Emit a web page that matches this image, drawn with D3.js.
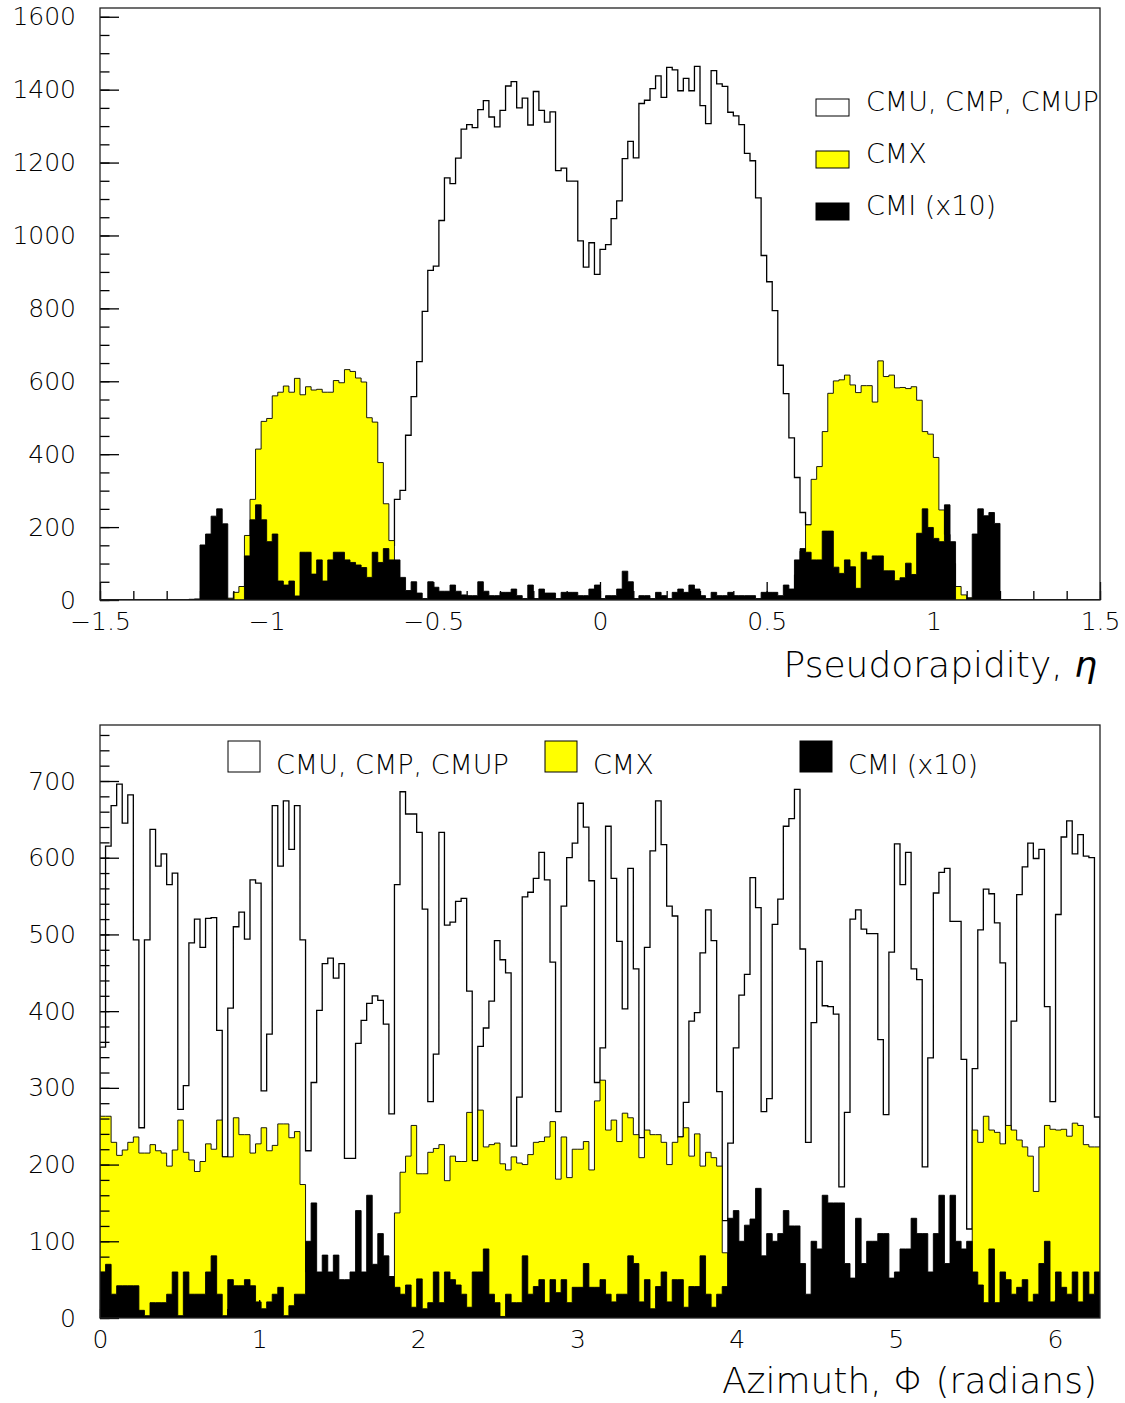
<!DOCTYPE html>
<html>
<head>
<meta charset="utf-8">
<script src="https://cdn.jsdelivr.net/npm/d3@7"></script>
<style>
  body { margin: 0; background: #fff; }
  text { font-family: 'DejaVu Sans', sans-serif; font-weight: 200; fill: #000; }
</style>
</head>
<body>
<script>
// ---- pseudorapidity histograms (180 bins, -1.5 .. 1.5) ----
const etaRange = [-1.5, 1.5];
const etaTicks = [-1.5, -1, -0.5, 0, 0.5, 1, 1.5];
const etaCountTicks = [0, 200, 400, 600, 800, 1000, 1200, 1400, 1600];
const etaCountMax = 1624;

const etaCMU = [
  0,0,0,0,0,0,0,0,0,0, 0,0,0,0,0,0,0,0,0,0,
  0,0,0,0,0,0,0,0,0,0, 0,0,0,0,0,0,0,0,0,0,
  0,0,0,0,0,0,0,0,0,0, 10,40,150,276,301,452,558,654,792,904,
  916,1041,1158,1142,1212,1292,1304,1296,1345,1370, 1325,1298,1343,1410,1422,1350,1377,1303,1395,1343,
  1311,1339,1178,1185,1149,1149,985,913,980,893, 962,975,1046,1095,1211,1258,1213,1362,1371,1403,
  1438,1379,1461,1454,1397,1431,1397,1464,1356,1307, 1452,1416,1409,1338,1328,1304,1225,1205,1103,945,
  873,794,644,566,445,336,240,206,150,80, 30,10,0,0,0,0,0,0,0,0,
  0,0,0,0,0,0,0,0,0,0, 0,0,0,0,0,0,0,0,0,0,
  0,0,0,0,0,0,0,0,0,0, 0,0,0,0,0,0,0,0,0,0
];

const etaCMX = [
  0,0,0,0,0,0,0,0,0,0, 0,0,0,0,0,0,0,0,0,0,
  0,0,0,5,21,37,177,276,414,490, 498,560,570,587,570,608,563,585,576,578,
  570,570,602,596,632,627,609,598,500,488, 377,264,163,5,2,0,0,0,0,0,
  0,0,0,0,0,0,0,0,0,0, 0,0,0,0,0,0,0,0,0,0,
  0,0,0,0,0,0,0,0,0,0, 0,0,0,0,0,0,0,0,0,0,
  0,0,0,0,0,0,0,0,0,0, 0,0,0,0,0,0,0,0,0,0,
  0,0,3,10,29,69,134,206,331,366, 462,567,601,604,617,590,569,588,588,543,
  656,613,617,582,583,580,585,548,462,455, 391,247,180,100,37,14,6,0,0,0,
  0,0,0,0,0,0,0,0,0,0, 0,0,0,0,0,0,0,0,0,0
];

const etaCMI = [
  0,0,0,0,0,0,0,0,0,0, 0,0,0,0,0,0,2,3,151,181,
  230,250,209,3,0,0,121,220,261,220, 160,181,52,41,52,11,131,131,71,110,
  52,110,131,131,110,103,96,89,62,131, 103,141,110,110,62,26,50,19,4,50,
  35,24,24,41,24,14,12,12,50,24, 12,12,21,21,30,12,4,41,4,30,
  19,19,4,21,21,21,12,12,30,41, 4,12,12,30,79,50,4,12,12,4,
  21,12,4,21,30,21,41,30,12,4, 21,12,12,21,12,12,12,12,4,21,
  21,21,12,41,30,110,141,131,110,110, 189,189,90,73,110,91,32,131,110,121,
  121,80,80,53,61,101,70,183,250,199, 169,160,261,160,0,0,5,181,250,231,
  240,210,1,1,1,0,0,0,0,0, 0,0,0,0,0,0,0,0,0,0
];

// ---- azimuth histograms (180 bins, 0 .. 2pi) ----
const phiRange = [0, 2 * Math.PI];
const phiTicks = [0, 1, 2, 3, 4, 5, 6];
const phiCountTicks = [0, 100, 200, 300, 400, 500, 600, 700];
const phiCountMax = 773;

const phiCMU = [
  353,615,668,696,645,682,493,248,493,637, 589,605,565,580,272,303,489,520,483,521,
  522,375,210,404,510,529,494,571,567,296, 370,668,589,674,611,668,493,218,307,401,
  462,469,443,462,208,208,358,388,410,420, 414,383,266,565,686,657,657,633,533,282,
  344,633,512,516,543,547,426,205,354,378, 413,492,467,450,224,288,549,555,573,607,
  571,464,269,537,600,619,671,640,570,307, 352,641,573,491,403,586,455,235,483,609,
  674,617,537,524,236,281,387,398,476,532, 492,295,127,228,352,421,448,574,535,269,
  286,513,546,641,651,689,481,229,385,465, 407,406,396,171,268,520,532,507,501,501,
  363,265,477,618,565,607,455,441,197,339, 554,581,586,517,517,337,116,325,506,559,
  553,515,463,226,387,552,588,619,599,611, 406,282,526,627,648,605,630,602,600,262
];

const phiCMX = [
  263,263,229,212,219,229,236,215,215,226, 218,215,198,219,258,216,206,191,204,227,
  220,258,210,210,261,239,239,215,227,248, 218,225,253,253,235,243,174,60,0,0,
  0,0,0,0,0,0,0,0,0,0, 0,0,54,137,190,211,251,188,188,216,
  221,226,179,211,204,204,268,205,271,223, 226,228,201,193,210,202,200,213,229,230,
  236,256,181,236,183,220,220,230,193,283, 310,245,258,230,267,261,239,209,245,239,
  239,229,200,229,236,248,211,240,198,216, 209,198,85,0,0,0,0,0,0,0,
  0,0,0,0,0,0,0,0,0,0, 0,0,0,0,0,0,0,0,0,0,
  0,0,0,0,0,0,0,0,0,0, 0,0,0,0,0,0,0,245,229,263,
  245,242,227,251,245,232,223,211,165,223, 251,246,245,246,237,254,251,226,223,223
];

const phiCMI = [
  60,70,31,42,42,42,42,10,3,20, 20,20,31,60,3,60,31,31,31,60,
  81,31,3,50,42,42,50,42,21,12, 21,31,40,3,16,31,31,100,150,60,
  82,60,82,50,50,60,140,60,160,70, 110,81,54,40,31,43,14,51,12,20,
  60,20,60,50,43,31,14,60,60,90, 31,20,2,31,20,20,81,31,41,50,
  20,50,33,50,20,40,40,71,40,40, 50,31,21,31,31,81,71,21,50,12,
  41,60,21,50,50,14,41,41,81,31, 14,31,41,130,140,100,121,129,169,81,
  110,100,110,140,120,120,71,31,100,90, 160,150,150,150,71,52,130,71,100,100,
  110,110,52,60,90,90,130,110,110,60, 110,160,71,160,100,90,100,60,43,20,
  90,20,60,50,31,40,50,21,31,71, 100,21,60,40,31,60,21,60,31,60
];

const seriesNames = ['CMU, CMP, CMUP', 'CMX', 'CMI (x10)'];
const seriesFill = ['none', '#ffff00', '#000000'];

const width = 1125;
const height = 1403;

const svg = d3.select('body').append('svg')
  .attr('width', width)
  .attr('height', height);

const panels = [
  {
    id: 'eta', xDomain: etaRange, yMax: etaCountMax, top: 8, bottom: 600,
    xTicks: etaTicks, xMinor: 0.1, yTicks: etaCountTicks, yMinor: 50,
    series: [etaCMU, etaCMX, etaCMI], title: ['Pseudorapidity, ', '\u03b7'], titleY: 677
  },
  {
    id: 'phi', xDomain: phiRange, yMax: phiCountMax, top: 725, bottom: 1318,
    xTicks: phiTicks, xMinor: 0.2, yTicks: phiCountTicks, yMinor: 20,
    series: [phiCMU, phiCMX, phiCMI], title: ['Azimuth, \u03a6 (radians)'], titleY: 1393
  }
];

const left = 100, right = 1100;
const fmt = d3.format('~g');

panels.forEach(p => {
  const x = d3.scaleLinear().domain(p.xDomain).range([left, right]);
  const y = d3.scaleLinear().domain([0, p.yMax]).range([p.bottom, p.top]);
  const g = svg.append('g').attr('class', p.id);

  g.append('clipPath').attr('id', 'clip-' + p.id)
    .append('rect')
    .attr('x', left).attr('y', p.top)
    .attr('width', right - left).attr('height', p.bottom - p.top);

  const plot = g.append('g').attr('clip-path', `url(#clip-${p.id})`);

  const line = d3.line().x(d => x(d[0])).y(d => y(d[1]));

  p.series.forEach((values, k) => {
    const n = values.length;
    const step = (p.xDomain[1] - p.xDomain[0]) / n;
    const pts = [[p.xDomain[0], 0]];
    values.forEach((v, i) => {
      pts.push([p.xDomain[0] + i * step, v], [p.xDomain[0] + (i + 1) * step, v]);
    });
    pts.push([p.xDomain[1], 0]);
    plot.append('path')
      .attr('d', line(pts))
      .attr('fill', seriesFill[k])
      .attr('stroke', '#000')
      .attr('stroke-width', k === 0 ? 1.3 : 0.9)
      .attr('stroke-linejoin', 'miter');
  });

  // minor ticks
  const xMinorVals = d3.range(p.xDomain[0], p.xDomain[1] + 1e-9, p.xMinor);
  const yMinorVals = d3.range(0, p.yMax, p.yMinor);

  g.append('g')
    .attr('transform', `translate(0,${p.bottom})`)
    .call(d3.axisBottom(x).tickValues(xMinorVals).tickSize(-9).tickFormat(''))
    .call(a => a.select('.domain').remove());

  g.append('g')
    .attr('transform', `translate(${left},0)`)
    .call(d3.axisLeft(y).tickValues(yMinorVals).tickSize(-9.5).tickFormat(''))
    .call(a => a.select('.domain').remove());

  // major ticks with labels
  const xAxis = g.append('g')
    .attr('transform', `translate(0,${p.bottom})`)
    .call(d3.axisBottom(x).tickValues(p.xTicks).tickSize(-18).tickPadding(12).tickFormat(fmt));
  xAxis.select('.domain').remove();

  const yAxis = g.append('g')
    .attr('transform', `translate(${left},0)`)
    .call(d3.axisLeft(y).tickValues(p.yTicks).tickSize(-19).tickPadding(24).tickFormat(fmt));
  yAxis.select('.domain').remove();

  g.selectAll('.tick line').attr('stroke', '#000').attr('stroke-width', 1.3);
  g.selectAll('.tick text')
    .attr('font-size', 25)
    .attr('font-family', null)
    .attr('fill', '#000');

  // frame
  g.append('rect')
    .attr('x', left).attr('y', p.top)
    .attr('width', right - left).attr('height', p.bottom - p.top)
    .attr('fill', 'none')
    .attr('stroke', '#222')
    .attr('stroke-width', 1.3);

  const title = g.append('text')
    .attr('x', 1097).attr('y', p.titleY)
    .attr('text-anchor', 'end')
    .attr('font-size', 36);
  p.title.forEach((part, i) => {
    title.append('tspan')
      .attr('font-style', i === 1 ? 'italic' : null)
      .text(part);
  });
});

// legend, top panel (vertical)
const legTop = svg.append('g').attr('class', 'legend-top');
seriesNames.forEach((name, k) => {
  const row = legTop.append('g').attr('transform', `translate(816,${99 + k * 52})`);
  row.append('rect')
    .attr('width', 33).attr('height', 17)
    .attr('fill', seriesFill[k] === 'none' ? '#fff' : seriesFill[k])
    .attr('stroke', '#000').attr('stroke-width', 1);
  row.append('text')
    .attr('x', 50).attr('y', 12)
    .attr('font-size', 27)
    .text(name);
});

// legend, bottom panel (horizontal)
const legBottomX = [228, 545, 800];
const legBottom = svg.append('g').attr('class', 'legend-bottom');
seriesNames.forEach((name, k) => {
  const row = legBottom.append('g').attr('transform', `translate(${legBottomX[k]},741)`);
  row.append('rect')
    .attr('width', 32).attr('height', 31)
    .attr('fill', seriesFill[k] === 'none' ? '#fff' : seriesFill[k])
    .attr('stroke', '#000').attr('stroke-width', 1);
  row.append('text')
    .attr('x', 48).attr('y', 33)
    .attr('font-size', 27)
    .text(name);
});
</script>
</body>
</html>
